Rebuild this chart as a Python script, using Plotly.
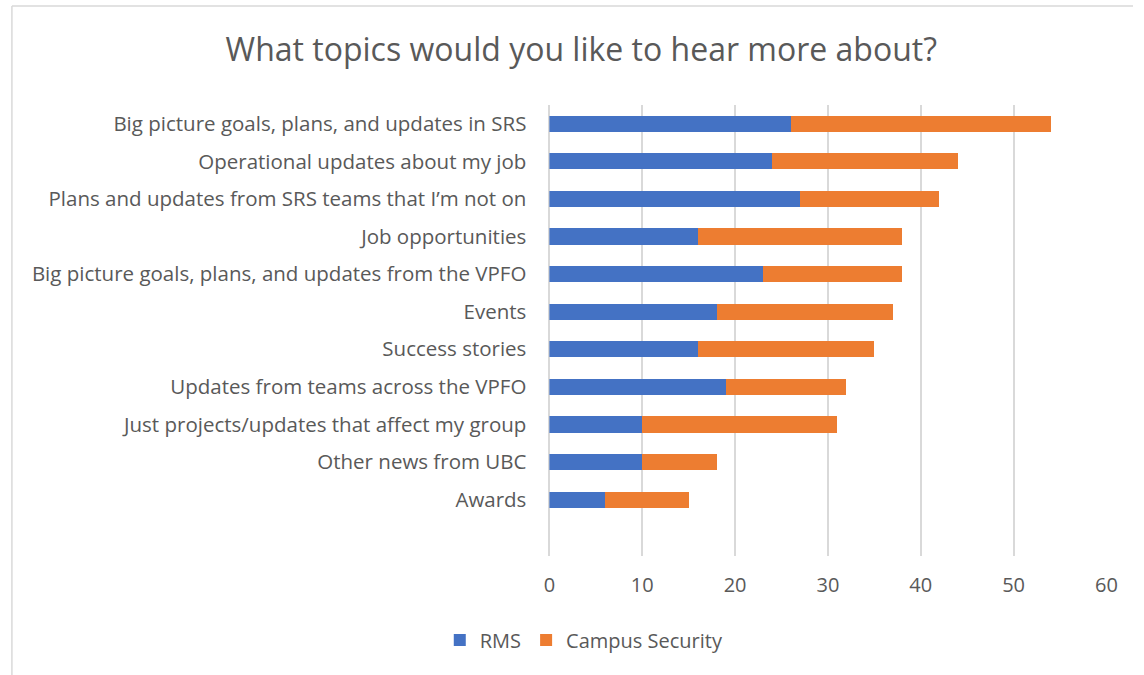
import plotly.graph_objects as go

# Survey topics, top to bottom as shown
topics = [
    "Big picture goals, plans, and updates in SRS",
    "Operational updates about my job",
    "Plans and updates from SRS teams that I\u2019m not on",
    "Job opportunities",
    "Big picture goals, plans, and updates from the VPFO",
    "Events",
    "Success stories",
    "Updates from teams across the VPFO",
    "Just projects/updates that affect my group",
    "Other news from UBC",
    "Awards",
]
rms = [26, 24, 27, 16, 23, 18, 16, 19, 10, 10, 6]
campus_security = [28, 20, 15, 22, 15, 19, 19, 13, 21, 8, 9]

x_ticks = [0, 10, 20, 30, 40, 50, 60]

W, H = 1144, 675
FONT = "'Open Sans', Lato, sans-serif"
TXT = "#595959"
GRID = "#D9D9D9"

# bottom-to-top order for the category axis
order = list(reversed(topics))

fig = go.Figure()
fig.add_trace(go.Bar(
    y=topics, x=rms, orientation="h", name="RMS",
    marker=dict(color="#4472C4", line=dict(width=0)), width=0.43,
))
fig.add_trace(go.Bar(
    y=topics, x=campus_security, orientation="h", name="Campus Security",
    marker=dict(color="#ED7D31", line=dict(width=0)), width=0.43,
))

fig.update_layout(
    width=W, height=H,
    barmode="stack",
    paper_bgcolor="white", plot_bgcolor="white",
    margin=dict(l=0, r=0, t=0, b=0),
    font=dict(family=FONT, color=TXT, size=20),
    title=dict(
        text="What topics would you like to hear more about?",
        x=584 / W, xanchor="center", xref="paper",
        y=1 - 50 / H, yanchor="middle", yref="paper",
        font=dict(size=32, color=TXT, family=FONT),
    ),
    xaxis=dict(
        domain=[551.6 / W, 1117 / W],
        range=[0, 60], tickvals=x_ticks,
        showgrid=True, gridcolor=GRID, gridwidth=1.5,
        zeroline=True, zerolinecolor=GRID, zerolinewidth=1.5,
        showline=False,
        ticks="", ticklabelstandoff=15,
        tickfont=dict(size=20, color=TXT),
        fixedrange=True,
    ),
    yaxis=dict(
        domain=[1 - 556 / H, 1 - 105 / H],
        type="category", categoryorder="array", categoryarray=order,
        range=[-1.5, 10.5],
        showgrid=False, zeroline=False, showline=False,
        ticks="", ticklabelstandoff=22,
        tickfont=dict(size=20.5, color=TXT),
        fixedrange=True,
    ),
    legend=dict(
        orientation="h",
        x=587 / W, xanchor="center",
        y=1 - 640 / H, yanchor="middle",
        font=dict(size=20, color=TXT),
        itemwidth=30, traceorder="normal",
        bgcolor="rgba(0,0,0,0)",
    ),
    showlegend=True,
    shapes=[
        # chart frame edges
        dict(type="line", xref="paper", yref="paper",
             x0=6 / W, x1=6 / W, y0=0, y1=1 - 6 / H,
             line=dict(color=GRID, width=1.5)),
        dict(type="line", xref="paper", yref="paper",
             x0=6 / W, x1=1, y0=1 - 6 / H, y1=1 - 6 / H,
             line=dict(color=GRID, width=1.5)),
    ],
)

fig.write_html("out.html")
